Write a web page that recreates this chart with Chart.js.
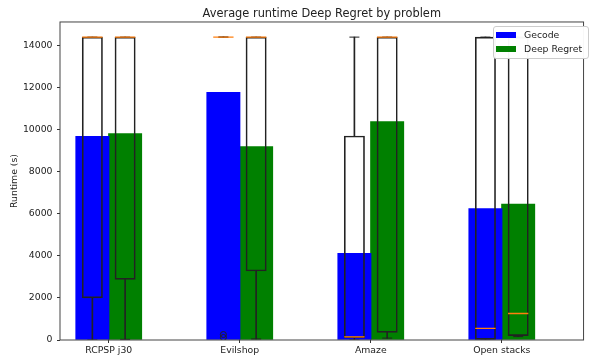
<!DOCTYPE html>
<html><head><meta charset="utf-8">
<script src="https://cdn.jsdelivr.net/npm/chart.js@4.4.1/dist/chart.umd.min.js"></script>
<style>
html,body{margin:0;padding:0;background:#fff;}
#wrap{position:relative;width:595px;height:357px;}
#legend{position:absolute;left:492.5px;top:26px;width:96px;height:33px;box-sizing:border-box;border:1px solid #cccccc;border-radius:3px;background:rgba(255,255,255,0.96);font-family:'DejaVu Sans';font-size:9.3px;color:#222;}
.item{position:absolute;left:2.5px;height:12px;display:flex;align-items:center;white-space:nowrap;}
.sw{width:20px;height:6px;margin-right:8px;}
</style></head>
<body><div id="wrap"><canvas id="c" width="595" height="357"></canvas><div id="legend"></div></div>
<script>
const categories = ['RCPSP j30', 'Evilshop', 'Amaze', 'Open stacks'];
const yTicks = [0, 2000, 4000, 6000, 8000, 10000, 12000, 14000];

// mean runtime (bars)
const gecodeMean = [9680, 11780, 4120, 6250];
const deepRegretMean = [9820, 9200, 10380, 6460];

// box plot statistics
const gecodeMin = [0, 14400, 0, 0];
const gecodeQ1 = [2000, 14400, 100, 30];
const gecodeMedian = [14400, 14400, 150, 550];
const gecodeQ3 = [14400, 14400, 9700, 14400];
const gecodeMax = [14400, 14400, 14400, 14400];
const gecodeFliers = [[], [120, 260], [], []];

const deepRegretMin = [30, 50, 90, 160];
const deepRegretQ1 = [2880, 3280, 360, 210];
const deepRegretMedian = [14400, 14400, 14400, 1260];
const deepRegretQ3 = [14400, 14400, 14400, 14400];
const deepRegretMax = [14400, 14400, 14400, 14400];
const deepRegretFliers = [[], [], [], []];

const FONT = 'DejaVu Sans';
const LINE = '#222';
const series = [
  {label: 'Gecode', color: '#0000ff', off: -0.125, mean: gecodeMean, min: gecodeMin, q1: gecodeQ1, med: gecodeMedian, q3: gecodeQ3, max: gecodeMax, fliers: gecodeFliers},
  {label: 'Deep Regret', color: '#008000', off: 0.125, mean: deepRegretMean, min: deepRegretMin, q1: deepRegretQ1, med: deepRegretMedian, q3: deepRegretQ3, max: deepRegretMax, fliers: deepRegretFliers}
];

const datasets = [];
series.forEach(s => {
  const xs = categories.map((c, i) => i + s.off);
  datasets.push({type: 'bar', label: s.label, showInLegend: true, data: s.mean.map((v, i) => ({x: xs[i], y: v})),
    backgroundColor: s.color, borderWidth: 0, grouped: false, barThickness: 33.3, order: 10});
  datasets.push({type: 'bar', label: s.label + ' box', data: s.q1.map((v, i) => ({x: xs[i], y: [v, s.q3[i]]})),
    backgroundColor: 'rgba(0,0,0,0)', borderColor: LINE, borderWidth: 1, borderSkipped: false, grouped: false, barThickness: 20.3, order: 3});
  datasets.push({type: 'bar', label: s.label + ' lower whisker', data: s.min.map((v, i) => ({x: xs[i], y: [v, s.q1[i]]})),
    backgroundColor: LINE, borderWidth: 0, grouped: false, barThickness: 1, order: 4});
  datasets.push({type: 'bar', label: s.label + ' upper whisker', data: s.q3.map((v, i) => ({x: xs[i], y: [v, s.max[i]]})),
    backgroundColor: LINE, borderWidth: 0, grouped: false, barThickness: 1, order: 4});
  const caps = [];
  xs.forEach((x, i) => { caps.push({x, y: s.min[i]}); caps.push({x, y: s.max[i]}); });
  datasets.push({type: 'scatter', label: s.label + ' caps', data: caps, pointStyle: 'line', radius: 5,
    borderColor: LINE, borderWidth: 1, order: 2});
  datasets.push({type: 'scatter', label: s.label + ' median', data: s.med.map((v, i) => ({x: xs[i], y: v})), pointStyle: 'line', radius: 10.15,
    borderColor: '#ff7f0e', borderWidth: 1.3, order: 0});
  const fl = [];
  s.fliers.forEach((arr, i) => arr.forEach(v => fl.push({x: xs[i], y: v})));
  datasets.push({type: 'scatter', label: s.label + ' fliers', data: fl, pointStyle: 'circle', radius: 3,
    borderColor: LINE, backgroundColor: 'rgba(0,0,0,0)', borderWidth: 1, order: 0});
});

const framePlugin = {
  id: 'frame',
  afterDatasetsDraw(chart) {
    const {ctx, chartArea: a} = chart;
    ctx.save();
    ctx.strokeStyle = '#444';
    ctx.lineWidth = 1;
    ctx.strokeRect(a.left, a.top, a.right - a.left, a.bottom - a.top);
    ctx.restore();
  }
};

const gridOpts = {display: true, offset: false, drawOnChartArea: false, drawTicks: true, tickLength: 3, color: '#333', lineWidth: 1};

const chart = new Chart(document.getElementById('c'), {
  type: 'bar',
  data: {datasets},
  options: {
    responsive: false,
    animation: false,
    events: [],
    layout: {padding: {left: 0, right: 3, top: 0, bottom: 0}},
    plugins: {
      legend: {display: false},
      tooltip: {enabled: false},
      title: {display: true, fullSize: false, text: 'Average runtime Deep Regret by problem', color: '#222',
        font: {family: FONT, size: 11.4, weight: 'normal'}, padding: {top: 7, bottom: 1.3}}
    },
    scales: {
      x: {
        type: 'linear', min: -0.372, max: 3.624, offset: false, bounds: 'data',
        afterBuildTicks: s => { s.ticks = categories.map((c, i) => ({value: i})); },
        afterFit: s => { s.height = 17; },
        grid: gridOpts,
        border: {display: false},
        ticks: {callback: v => categories[v], padding: 2.4, color: '#222', font: {family: FONT, size: 9.3}, maxRotation: 0, autoSkip: false}
      },
      y: {
        type: 'linear', min: 0, max: 15120, offset: false,
        afterBuildTicks: s => { s.ticks = yTicks.map(v => ({value: v})); },
        afterFit: s => { s.width = 60; },
        grid: gridOpts,
        border: {display: false},
        ticks: {callback: v => String(v), padding: 4.5, color: '#222', font: {family: FONT, size: 9.3}},
        title: {display: true, text: 'Runtime (s)', color: '#222', font: {family: FONT, size: 9.3}, padding: {top: 9.4, bottom: 0}}
      }
    }
  },
  plugins: [framePlugin]
});

const legendEl = document.getElementById('legend');
chart.data.datasets.filter(d => d.showInLegend).forEach((d, k) => {
  const item = document.createElement('div');
  item.className = 'item';
  item.style.top = (1.7 + k * 14) + 'px';
  const sw = document.createElement('span');
  sw.className = 'sw';
  sw.style.background = d.backgroundColor;
  const t = document.createElement('span');
  t.textContent = d.label;
  item.appendChild(sw); item.appendChild(t);
  legendEl.appendChild(item);
});
</script>
</body></html>
